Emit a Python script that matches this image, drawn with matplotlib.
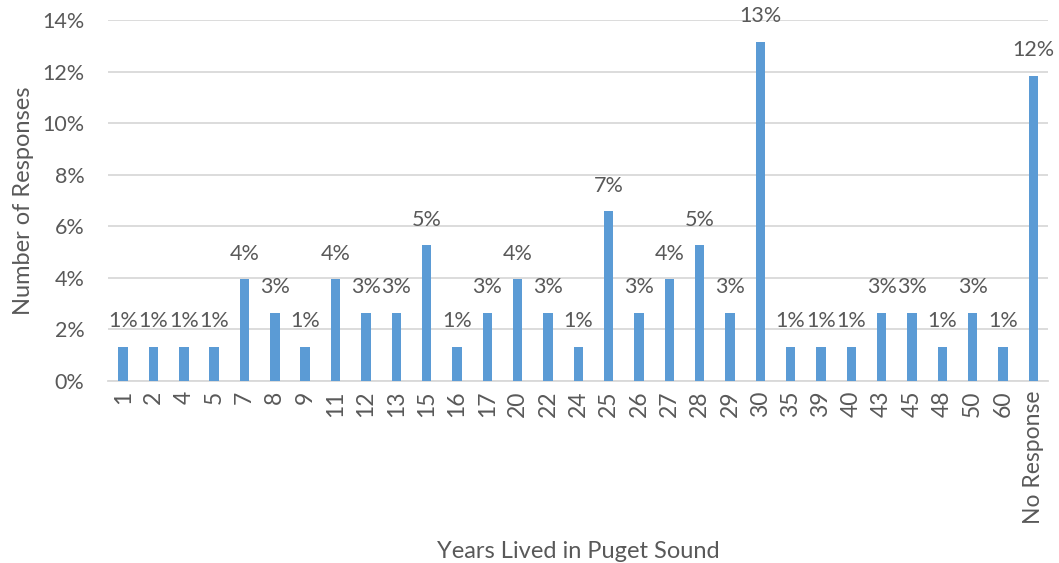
import matplotlib
matplotlib.use("Agg")
import matplotlib.pyplot as plt
from matplotlib.ticker import FuncFormatter, MultipleLocator

plt.rcParams['font.family'] = ['Lato', 'DejaVu Sans']

categories = ["1", "2", "4", "5", "7", "8", "9", "11", "12", "13", "15", "16", "17",
              "20", "22", "24", "25", "26", "27", "28", "29", "30", "35", "39", "40",
              "43", "45", "48", "50", "60", "No Response"]
counts = [1, 1, 1, 1, 3, 2, 1, 3, 2, 2, 4, 1, 2,
          3, 2, 1, 5, 2, 3, 4, 2, 10, 1, 1, 1,
          2, 2, 1, 2, 1, 9]
total_responses = sum(counts)
shares = [c / total_responses for c in counts]

bar_color = "#5B9BD5"
text_color = "#595959"
grid_color = "#D9D9D9"

fig = plt.figure(figsize=(10.59, 5.63), dpi=100)
ax = fig.add_axes([0.102, 0.3233, 0.888, 0.6412])

x = list(range(len(categories)))
ax.bar(x, shares, width=0.31, color=bar_color, zorder=3)

for xi, v in zip(x, shares):
    ax.annotate(f"{v * 100:.0f}%", (xi, v), xytext=(0, 18.5), textcoords="offset points",
                ha="center", va="center", fontsize=15.5, color=text_color,
                annotation_clip=False)

ax.set_ylim(0, 0.14)
ax.set_xlim(-0.5, len(categories) - 0.5)
ax.yaxis.set_major_locator(MultipleLocator(0.02))
ax.yaxis.set_major_formatter(FuncFormatter(lambda v, p: f"{v * 100:.0f}%"))
ax.grid(axis="y", color=grid_color, linewidth=1.3, zorder=0)

ax.set_xticks(x)
ax.set_xticklabels(categories, rotation=90)
ax.tick_params(axis="both", length=0, labelsize=15.5, labelcolor=text_color)
ax.tick_params(axis="x", pad=7, labelsize=16.5)
ax.tick_params(axis="y", pad=17)

for s in ["top", "right", "left"]:
    ax.spines[s].set_visible(False)
ax.spines["bottom"].set_color(grid_color)
ax.spines["bottom"].set_linewidth(1.3)

ax.set_ylabel("Number of Responses", fontsize=17, color=text_color, labelpad=6)
ax.set_xlabel("Years Lived in Puget Sound", fontsize=17, color=text_color, labelpad=12)

fig.savefig("out.png", dpi=100)
